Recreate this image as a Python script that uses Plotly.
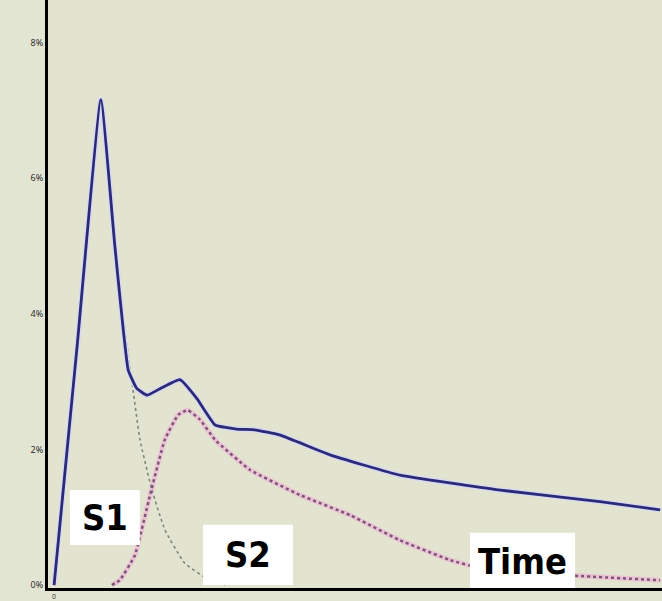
import plotly.graph_objects as go

# Time (arbitrary units) and concentration (%)
total_t = [0, 3.85, 7.7, 10.0, 12.2, 13.6, 15.3, 17.5, 20.7, 23.5, 26.5, 30.0, 33.0, 37.2, 45.4, 56.9, 73.4, 89.8, 99.7]
total_v = [0, 3.58, 7.16, 5.0, 3.17, 2.90, 2.80, 2.90, 3.03, 2.75, 2.36, 2.30, 2.29, 2.21, 1.92, 1.62, 1.40, 1.23, 1.11]

s1_t = [0, 3.85, 7.7, 10.0, 11.66, 12.98, 14.13, 16.1, 18.24, 21.5, 25.6, 28.1]
s1_v = [0, 3.58, 7.16, 5.0, 3.76, 2.88, 2.14, 1.40, 0.81, 0.32, 0.07, 0]

s2_t = [9.5, 10.8, 13.3, 15.8, 18.2, 20.4, 22.0, 24.0, 26.5, 32.2, 40.4, 48.7, 56.9, 65.1, 70.1, 83.2, 99.7]
s2_v = [0, 0.07, 0.44, 1.33, 2.14, 2.51, 2.58, 2.44, 2.14, 1.70, 1.33, 1.03, 0.66, 0.37, 0.25, 0.15, 0.07]

y_ticks = [0, 2, 4, 6, 8]
y_tick_labels = ["0%", "2%", "4%", "6%", "8%"]

labels = ["S1", "S2", "Time"]
label_boxes = [(2.6, 14.1, 0.59, 1.40), (24.5, 39.3, 0.0, 0.89), (68.4, 85.7, -0.07, 0.77)]

SM = 0.35
fig = go.Figure()
fig.add_trace(go.Scatter(x=s2_t, y=s2_v, mode="lines", line=dict(color="#EBC3D3", width=5, shape="spline", smoothing=SM), hoverinfo="skip", showlegend=False))
fig.add_trace(go.Scatter(x=s1_t, y=s1_v, mode="lines", line=dict(color="#7E877C", width=1.6, dash="dot", shape="spline", smoothing=SM), showlegend=False))
fig.add_trace(go.Scatter(x=s2_t, y=s2_v, mode="lines", line=dict(color="#7B5578", width=2.5, dash="3px,3px", shape="spline", smoothing=SM), showlegend=False))
fig.add_trace(go.Scatter(x=total_t, y=total_v, mode="lines", line=dict(color="#D8D8F2", width=5.5, shape="spline", smoothing=SM), hoverinfo="skip", showlegend=False))
fig.add_trace(go.Scatter(x=total_t, y=total_v, mode="lines", line=dict(color="#2A2A78", width=2.8, shape="spline", smoothing=SM), showlegend=False))

shapes = []
annotations = []
for lab, (x0, x1, y0, y1) in zip(labels, label_boxes):
    shapes.append(dict(type="rect", xref="x", yref="y", x0=x0, x1=x1, y0=y0, y1=y1,
                       fillcolor="white", line=dict(width=0), layer="above"))
    annotations.append(dict(x=(x0 + x1) / 2, y=(y0 + y1) / 2, xref="x", yref="y", text="<b>%s</b>" % lab,
                            showarrow=False, font=dict(family="DejaVu Sans Condensed, Liberation Sans Narrow, Roboto", size=36, color="black")))

fig.update_layout(
    width=662, height=601,
    margin=dict(l=48, r=0, t=0, b=13, autoexpand=False),
    paper_bgcolor="#E3E5D3",
    plot_bgcolor="#E2E4CF",
    shapes=shapes,
    annotations=annotations,
    xaxis=dict(range=[-1, 100], showgrid=False, zeroline=False, showline=True, linecolor="black", linewidth=3,
               automargin=False, tickvals=[0], ticktext=["0"], tickfont=dict(size=7, color="#333"), ticks="",
               ticklabelstandoff=0),
    yaxis=dict(range=[-0.044, 8.63], showgrid=False, zeroline=False, showline=True, linecolor="black", linewidth=3,
               automargin=False, tickvals=y_ticks, ticktext=y_tick_labels, tickfont=dict(size=9, color="#222"), ticks=""),
)
fig.write_html("out.html", config={"displayModeBar": False},
               post_script="document.body.style.margin='0';document.body.style.background='#E3E5D3';")
